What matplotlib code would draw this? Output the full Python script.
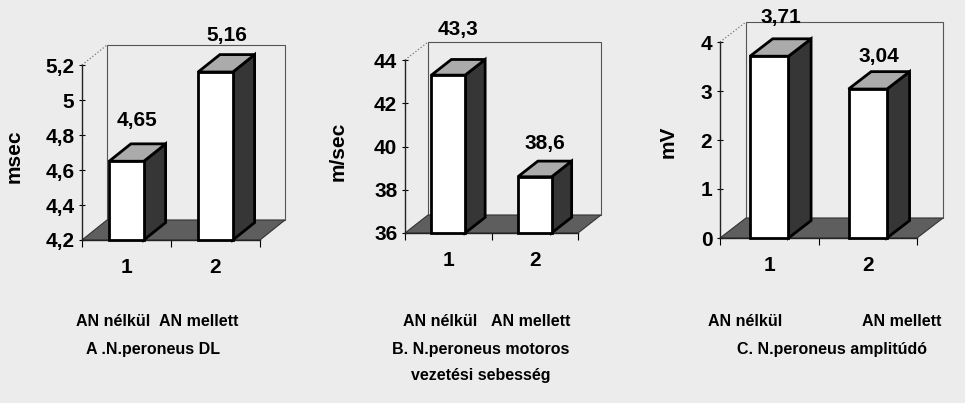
import matplotlib.pyplot as plt
from matplotlib.patches import Polygon, Rectangle

plt.rcParams['font.family'] = ['Liberation Sans', 'DejaVu Sans']
plt.rcParams['font.weight'] = 'bold'

W, H = 965, 403
BG = '#ececec'

# data
categories = ['1', '2']
groups = ['AN nélkül', 'AN mellett']

dl_values = [4.65, 5.16]
dl_texts = ['4,65', '5,16']
dl_ticks = [4.2, 4.4, 4.6, 4.8, 5.0, 5.2]
dl_ticklabels = ['4,2', '4,4', '4,6', '4,8', '5', '5,2']

ncv_values = [43.3, 38.6]
ncv_texts = ['43,3', '38,6']
ncv_ticks = [36, 38, 40, 42, 44]
ncv_ticklabels = ['36', '38', '40', '42', '44']

amp_values = [3.71, 3.04]
amp_texts = ['3,71', '3,04']
amp_ticks = [0, 1, 2, 3, 4]
amp_ticklabels = ['0', '1', '2', '3', '4']

titles = ['A .N.peroneus DL',
          'B. N.peroneus motoros\nvezetési sebesség',
          'C. N.peroneus amplitúdó']
units = ['msec', 'm/sec', 'mV']

# layout (pixels: left, right, bottom, top of the front plane)
boxes = [(82, 260, 240, 65), (405, 578, 233, 60), (720, 917, 238, 42)]
depths = [(25, 20), (23, 18), (26, 20)]
ylab_pos = [(-0.33, 0.48), (-0.33, 0.47), (-0.215, 0.49)]
label_lift = [(14, 10), (20, 8), (12, 6)]
group_x = [(113, 199), (440, 531), (745, 902)]
title_x = [153, 481, 832]

fig = plt.figure(figsize=(W / 100, H / 100), dpi=100, facecolor=BG)


def panel(k, values, texts, ticks, ticklabels):
    l, r, b, t = boxes[k]
    ax = fig.add_axes([l / W, 1 - b / H, (r - l) / W, (b - t) / H])
    y0, y1 = ticks[0], ticks[-1]
    ax.set_xlim(0.5, 2.5)
    ax.set_ylim(y0, y1)
    ax.patch.set_visible(False)
    for s in ['top', 'right']:
        ax.spines[s].set_visible(False)
    for s in ['left', 'bottom']:
        ax.spines[s].set_linewidth(1.0)
        ax.spines[s].set_color('#222222')

    ddx = depths[k][0] / (r - l) * 2.0
    ddy = depths[k][1] / (b - t) * (y1 - y0)

    # back wall + side edge
    ax.add_patch(Rectangle((0.5 + ddx, y0 + ddy), 2.0, y1 - y0, fc=BG,
                           ec='#555555', lw=0.8, clip_on=False, zorder=0))
    ax.plot([0.5, 0.5 + ddx], [y1, y1 + ddy], ':', color='#777777', lw=0.9,
            clip_on=False, zorder=0)
    # floor
    ax.add_patch(Polygon([(0.5, y0), (2.5, y0), (2.5 + ddx, y0 + ddy),
                          (0.5 + ddx, y0 + ddy)], closed=True, fc='#5e5e5e',
                         ec='#333333', lw=0.8, clip_on=False, zorder=1))

    bw = 0.39
    kd = 0.87
    for i, v in enumerate(values):
        x = i + 1
        a, c = x - bw / 2, x + bw / 2
        ex, ey = ddx * kd, ddy * kd
        ax.add_patch(Polygon([(c, y0), (c, v), (c + ex, v + ey), (c + ex, y0 + ey)],
                             closed=True, fc='#363636', ec='black', lw=2.0,
                             joinstyle='miter', clip_on=False, zorder=3))
        ax.add_patch(Polygon([(a, v), (c, v), (c + ex, v + ey), (a + ex, v + ey)],
                             closed=True, fc='#ababab', ec='black', lw=2.0,
                             joinstyle='miter', clip_on=False, zorder=3))
        ax.add_patch(Rectangle((a, y0), bw, v - y0, fc='white', ec='black',
                               lw=2.0, joinstyle='miter', clip_on=False, zorder=4))
        ax.annotate(texts[i], (x + ex / 2, v + ey), xytext=(0, label_lift[k][i]),
                    textcoords='offset pixels', ha='center', va='bottom',
                    fontsize=15, annotation_clip=False)

    ax.set_yticks(ticks)
    ax.set_yticklabels(ticklabels, fontsize=15)
    ax.tick_params(axis='y', direction='inout', length=5, width=0.8, pad=3)
    ax.set_xticks([0.5, 1.5, 2.5])
    ax.set_xticklabels([])
    ax.tick_params(axis='x', which='major', direction='out', length=5, width=0.8)
    ax.set_xticks([1, 2], minor=True)
    ax.set_xticklabels(categories, minor=True, fontsize=15)
    ax.tick_params(axis='x', which='minor', length=0, pad=13)
    ax.set_ylabel(units[k], fontsize=15, fontweight='bold')
    ax.yaxis.set_label_coords(*ylab_pos[k])

    for gx, g in zip(group_x[k], groups):
        fig.text(gx / W, 1 - 322 / H, g, ha='center', va='center', fontsize=11.5)
    fig.text(title_x[k] / W, 1 - 342 / H, titles[k], ha='center', va='top',
             fontsize=11.5, linespacing=1.95)


panel(0, dl_values, dl_texts, dl_ticks, dl_ticklabels)
panel(1, ncv_values, ncv_texts, ncv_ticks, ncv_ticklabels)
panel(2, amp_values, amp_texts, amp_ticks, amp_ticklabels)

fig.savefig('out.png', dpi=100, facecolor=BG)
